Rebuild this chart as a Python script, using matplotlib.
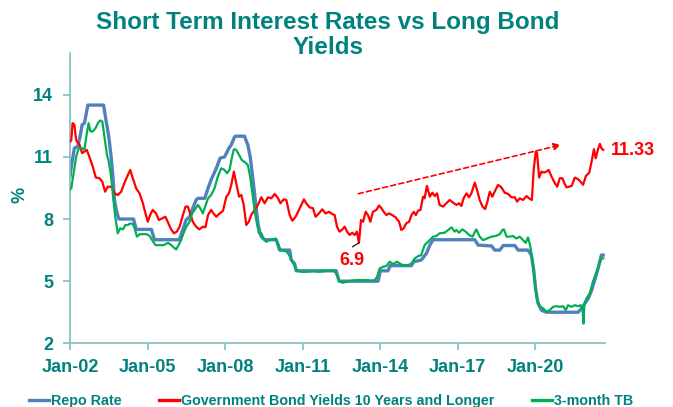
import matplotlib
matplotlib.use("Agg")
import matplotlib.pyplot as plt

plt.rcParams['font.family'] = ['Liberation Sans', 'DejaVu Sans']

# values (x = decimal year)
repo_x = [2002.0, 2002.05, 2002.17, 2002.3, 2002.39, 2002.47, 2002.56, 2002.69, 2003.3, 2003.4,
          2003.5, 2003.59, 2003.66, 2003.72, 2003.79, 2003.89, 2004.46, 2004.56, 2005.15, 2005.27,
          2006.23, 2006.36, 2006.49, 2006.63, 2006.75, 2006.88, 2006.95, 2007.21, 2007.34, 2007.46,
          2007.66, 2007.81, 2007.98, 2008.15, 2008.24, 2008.37, 2008.43, 2008.75, 2008.88, 2008.97,
          2009.05, 2009.14, 2009.21, 2009.27, 2009.34, 2009.4, 2009.53, 2009.98, 2010.11, 2010.5,
          2010.56, 2010.69, 2010.75, 2012.3, 2012.41, 2013.92, 2014.01, 2014.3, 2014.39, 2015.21,
          2015.3, 2015.59, 2015.69, 2015.79, 2015.92, 2016.05, 2017.66, 2017.79, 2018.31, 2018.43,
          2018.63, 2018.76, 2019.21, 2019.34, 2019.72, 2019.85, 2019.94, 2020.02, 2020.11, 2020.24,
          2020.43, 2021.66, 2021.79, 2021.92, 2022.05, 2022.18, 2022.3, 2022.43, 2022.56, 2022.63]
repo_y = [10.05, 10.53, 11.42, 11.5, 11.98, 12.55, 12.63, 13.5, 13.5, 12.71,
          11.98, 11.02, 10.05, 8.92, 8.44, 8.0, 8.0, 7.5, 7.5, 7.0,
          7.0, 7.47, 7.95, 8.11, 8.52, 8.92, 9.0, 9.0, 9.48, 9.89,
          10.45, 10.94, 11.0, 11.42, 11.58, 11.98, 12.0, 12.0, 11.58, 11.02,
          10.21, 9.24, 8.44, 7.79, 7.39, 7.15, 7.0, 7.0, 6.5, 6.5,
          6.02, 5.85, 5.5, 5.5, 5.0, 5.0, 5.5, 5.5, 5.75, 5.75,
          5.94, 6.02, 6.18, 6.34, 6.74, 7.0, 7.0, 6.74, 6.7, 6.5,
          6.5, 6.72, 6.72, 6.5, 6.5, 6.26, 5.53, 4.56, 3.92, 3.6,
          3.5, 3.5, 3.68, 3.92, 4.16, 4.56, 5.05, 5.61, 6.26, 6.26]

bond_x = [2002.0, 2002.05, 2002.1, 2002.17, 2002.24, 2002.37, 2002.47, 2002.56, 2002.65, 2002.75,
          2002.88, 2003.0, 2003.14, 2003.25, 2003.36, 2003.46, 2003.6, 2003.72, 2003.85, 2003.98,
          2004.1, 2004.24, 2004.33, 2004.43, 2004.56, 2004.69, 2004.82, 2004.92, 2005.01, 2005.1,
          2005.2, 2005.33, 2005.44, 2005.56, 2005.69, 2005.78, 2005.89, 2006.02, 2006.13, 2006.24,
          2006.37, 2006.47, 2006.56, 2006.65, 2006.75, 2006.88, 2007.0, 2007.14, 2007.24, 2007.34,
          2007.46, 2007.55, 2007.66, 2007.79, 2007.92, 2008.05, 2008.15, 2008.24, 2008.34, 2008.43,
          2008.54, 2008.63, 2008.72, 2008.82, 2008.92, 2009.01, 2009.14, 2009.27, 2009.4, 2009.53,
          2009.66, 2009.79, 2009.92, 2010.05, 2010.14, 2010.27, 2010.37, 2010.5, 2010.6, 2010.73,
          2010.86, 2010.95, 2011.05, 2011.14, 2011.27, 2011.4, 2011.5, 2011.63, 2011.76, 2011.89,
          2012.02, 2012.15, 2012.24, 2012.33, 2012.43, 2012.54, 2012.63, 2012.72, 2012.82, 2012.92,
          2013.01, 2013.1, 2013.18, 2013.26, 2013.34, 2013.44, 2013.53, 2013.62, 2013.72, 2013.85,
          2013.96, 2014.05, 2014.14, 2014.24, 2014.34, 2014.47, 2014.6, 2014.73, 2014.82, 2014.91,
          2015.01, 2015.12, 2015.21, 2015.3, 2015.38, 2015.47, 2015.56, 2015.66, 2015.72, 2015.81,
          2015.92, 2016.02, 2016.11, 2016.2, 2016.3, 2016.43, 2016.56, 2016.69, 2016.82, 2016.95,
          2017.05, 2017.14, 2017.23, 2017.34, 2017.44, 2017.53, 2017.66, 2017.75, 2017.85, 2017.96,
          2018.06, 2018.15, 2018.24, 2018.34, 2018.43, 2018.56, 2018.69, 2018.82, 2018.95, 2019.08,
          2019.21, 2019.3, 2019.4, 2019.53, 2019.66, 2019.76, 2019.87, 2019.94, 2020.02, 2020.07,
          2020.15, 2020.24, 2020.34, 2020.43, 2020.52, 2020.63, 2020.76, 2020.85, 2020.95, 2021.05,
          2021.14, 2021.21, 2021.31, 2021.41, 2021.53, 2021.66, 2021.75, 2021.85, 2021.96, 2022.09,
          2022.18, 2022.27, 2022.34, 2022.43, 2022.5, 2022.56, 2022.63]
bond_y = [11.74, 11.8, 12.63, 12.55, 11.8, 11.58, 11.18, 11.26, 11.34, 11.0,
          10.53, 10.0, 9.97, 9.8, 9.32, 9.56, 9.56, 9.24, 9.16, 9.32,
          9.73, 10.13, 10.37, 9.97, 9.48, 9.24, 8.76, 8.27, 7.87, 8.19,
          8.44, 8.27, 7.95, 8.03, 8.11, 7.87, 7.55, 7.31, 7.39, 7.63,
          8.19, 8.6, 8.6, 8.27, 7.87, 7.63, 7.5, 7.63, 7.6, 8.19,
          8.44, 8.27, 8.11, 8.27, 8.4, 9.08, 9.24, 9.65, 10.29, 9.73,
          9.08, 9.16, 8.68, 7.71, 7.87, 8.19, 8.44, 8.68, 9.05, 8.76,
          9.05, 9.0, 9.21, 9.0, 8.76, 8.95, 8.92, 8.19, 7.92, 8.11,
          8.44, 8.68, 8.95, 8.76, 8.56, 8.52, 8.11, 8.27, 8.47, 8.27,
          8.35, 8.24, 8.19, 7.63, 7.39, 7.5, 7.63, 7.39, 7.23, 7.34,
          7.23, 7.39, 6.85, 7.95, 7.87, 8.35, 8.19, 7.87, 8.35, 8.44,
          8.65, 8.52, 8.35, 8.19, 8.27, 8.19, 8.08, 7.87, 7.47, 7.55,
          7.79, 7.87, 8.19, 8.35, 8.19, 8.4, 8.44, 9.08, 9.0, 9.6,
          9.08, 9.27, 9.11, 9.24, 8.68, 8.6, 8.76, 8.92, 8.79, 8.68,
          8.76, 8.63, 9.0, 9.24, 9.05, 9.24, 9.76, 9.4, 8.92, 8.6,
          8.48, 8.84, 9.32, 9.08, 9.32, 9.65, 9.53, 9.27, 9.21, 9.05,
          9.05, 8.84, 9.0, 8.92, 9.11, 9.0, 8.92, 10.37, 11.26, 11.18,
          10.0, 10.29, 10.24, 10.29, 10.37, 10.05, 9.73, 9.56, 9.97, 9.97,
          9.7, 9.53, 9.56, 9.6, 10.0, 9.92, 9.81, 9.65, 10.08, 10.24,
          10.77, 11.37, 10.93, 11.37, 11.63, 11.42, 11.34]

tb_x = [2002.0, 2002.05, 2002.14, 2002.24, 2002.34, 2002.47, 2002.56, 2002.63, 2002.72, 2002.79,
        2002.88, 2002.99, 2003.08, 2003.17, 2003.25, 2003.34, 2003.43, 2003.5, 2003.59, 2003.68,
        2003.76, 2003.85, 2003.94, 2004.05, 2004.14, 2004.24, 2004.33, 2004.43, 2004.5, 2004.59,
        2004.69, 2004.82, 2004.97, 2005.08, 2005.18, 2005.31, 2005.46, 2005.62, 2005.79, 2005.92,
        2006.01, 2006.11, 2006.2, 2006.3, 2006.39, 2006.5, 2006.63, 2006.73, 2006.82, 2006.95,
        2007.04, 2007.14, 2007.25, 2007.34, 2007.46, 2007.59, 2007.72, 2007.85, 2007.98, 2008.07,
        2008.17, 2008.26, 2008.34, 2008.43, 2008.54, 2008.65, 2008.78, 2008.88, 2008.97, 2009.05,
        2009.14, 2009.23, 2009.31, 2009.4, 2009.49, 2009.59, 2009.72, 2009.85, 2009.96, 2010.05,
        2010.14, 2010.27, 2010.39, 2010.5, 2010.6, 2010.69, 2010.78, 2010.95, 2011.14, 2011.4,
        2011.66, 2011.92, 2012.18, 2012.3, 2012.41, 2012.54, 2012.69, 2012.88, 2013.08, 2013.27,
        2013.47, 2013.66, 2013.79, 2013.88, 2013.98, 2014.11, 2014.24, 2014.37, 2014.5, 2014.65,
        2014.76, 2014.88, 2015.08, 2015.21, 2015.34, 2015.47, 2015.59, 2015.72, 2015.81, 2015.92,
        2016.05, 2016.17, 2016.3, 2016.5, 2016.63, 2016.76, 2016.88, 2016.95, 2017.05, 2017.18,
        2017.31, 2017.44, 2017.57, 2017.72, 2017.85, 2017.98, 2018.14, 2018.31, 2018.47, 2018.63,
        2018.73, 2018.79, 2018.89, 2019.01, 2019.14, 2019.27, 2019.4, 2019.53, 2019.63, 2019.72,
        2019.81, 2019.89, 2019.98, 2020.07, 2020.18, 2020.31, 2020.43, 2020.56, 2020.69, 2020.82,
        2020.95, 2021.08, 2021.18, 2021.27, 2021.4, 2021.53, 2021.66, 2021.76, 2021.83, 2021.87,
        2021.9, 2021.98, 2022.11, 2022.21, 2022.3, 2022.4, 2022.5, 2022.56, 2022.63]
tb_y = [9.44, 9.48, 10.21, 11.02, 11.42, 11.42, 11.34, 11.98, 12.63, 12.23,
        12.23, 12.39, 12.63, 12.76, 12.71, 11.9, 11.1, 10.77, 10.05, 8.92,
        8.03, 7.31, 7.55, 7.5, 7.71, 7.71, 7.79, 7.76, 7.55, 7.15,
        7.26, 7.27, 7.27, 7.18, 6.98, 6.74, 6.74, 6.74, 6.85, 6.74,
        6.63, 6.53, 6.74, 6.98, 7.31, 7.63, 7.87, 8.27, 8.44, 8.68,
        8.52, 8.27, 8.68, 9.0, 9.16, 9.48, 10.05, 10.45, 10.37, 10.21,
        10.37, 10.94, 11.37, 11.34, 11.1, 10.85, 10.73, 10.61, 10.05, 9.32,
        8.44, 7.79, 7.31, 7.31, 7.06, 6.9, 6.98, 7.02, 7.06, 6.82,
        6.5, 6.47, 6.42, 6.21, 5.94, 5.73, 5.53, 5.45, 5.45, 5.48,
        5.45, 5.5, 5.53, 5.37, 5.02, 4.92, 4.97, 5.02, 5.05, 5.05,
        5.05, 5.02, 5.05, 5.21, 5.61, 5.69, 5.73, 5.94, 5.82, 5.94,
        5.85, 5.77, 5.77, 5.85, 6.1, 6.21, 6.26, 6.74, 6.85, 6.98,
        7.15, 7.18, 7.31, 7.34, 7.47, 7.6, 7.39, 7.47, 7.34, 7.5,
        7.39, 7.23, 7.15, 7.5, 7.15, 6.98, 7.06, 7.15, 7.18, 7.27,
        7.47, 7.5, 7.15, 7.15, 7.18, 7.06, 7.15, 6.98, 6.85, 7.11,
        6.69, 6.02, 5.05, 4.08, 3.79, 3.68, 3.52, 3.6, 3.76, 3.79,
        3.76, 3.79, 3.6, 3.84, 3.76, 3.84, 3.79, 3.84, 3.6, 2.95,
        3.92, 4.16, 4.4, 4.89, 5.21, 5.53, 5.89, 6.1, 6.1]

tick_years = [2002, 2005, 2008, 2011, 2014, 2017, 2020]
tick_labels = ['Jan-02', 'Jan-05', 'Jan-08', 'Jan-11', 'Jan-14', 'Jan-17', 'Jan-20']
y_ticks = [2, 5, 8, 11, 14]

teal = '#00827E'
spine = '#7CC0BC'

fig = plt.figure(figsize=(6.73, 4.07), dpi=100)
ax = fig.add_axes([0.104, 0.1565, 0.795, 0.7125])

ax.plot(repo_x, repo_y, color='#4F81BD', lw=2.4, label='Repo Rate', zorder=2)
ax.plot(bond_x, bond_y, color='#FF0000', lw=1.6,
        label='Government Bond Yields 10 Years and Longer', zorder=3)
ax.plot(tb_x, tb_y, color='#00B050', lw=1.6, label='3-month TB', zorder=3)

ax.set_xlim(2002.0, 2022.7)
ax.set_ylim(2, 16)
ax.set_xticks(tick_years)
ax.set_xticklabels(tick_labels)
ax.set_yticks(y_ticks)

for s in ['top', 'right']:
    ax.spines[s].set_visible(False)
for s in ['left', 'bottom']:
    ax.spines[s].set_color(spine)
    ax.spines[s].set_linewidth(1.2)
ax.tick_params(axis='both', colors=spine, length=5, width=1.2, direction='out')
ax.tick_params(axis='x', pad=6)
ax.tick_params(axis='y', pad=7)
for lab in ax.get_xticklabels() + ax.get_yticklabels():
    lab.set_color(teal)
    lab.set_fontsize(13)
    lab.set_fontweight('bold')

fig.text(20 / 673, 1 - 195 / 407, '%', rotation=90, color=teal, fontsize=13,
         fontweight='bold', ha='center', va='center')

fig.text(0.487, 1 - 35 / 407, 'Short Term Interest Rates vs Long Bond\nYields',
         ha='center', va='center', color=teal, fontsize=17.5, fontweight='bold',
         linespacing=1.15)

# annotations
ax.text(2012.92, 6.02, '6.9', color='red', fontsize=13, fontweight='bold',
        ha='center', va='center')
ax.plot([2012.93, 2013.18], [6.66, 6.85], color='black', lw=0.8, zorder=4)
ax.annotate('', xy=(2021.1, 11.61), xytext=(2013.05, 9.19),
            arrowprops=dict(arrowstyle='-|>', linestyle=(0, (3, 2)), color='red',
                            lw=1.2, mutation_scale=10))
ax.text(2022.91, 11.29, '11.33', color='red', fontsize=13, fontweight='bold',
        ha='left', va='center', clip_on=False)

leg = fig.legend(loc='center left', bbox_to_anchor=(29 / 673, 1 - 400.7 / 407), ncol=3,
                 frameon=False, fontsize=10.3, handlelength=1.4, handletextpad=0.15,
                 columnspacing=2.6, borderpad=0, borderaxespad=0)
for t in leg.get_texts():
    t.set_color(teal)
    t.set_fontweight('bold')
for h in leg.get_lines():
    h.set_linewidth(2.4)

fig.savefig('out.png', dpi=100)
